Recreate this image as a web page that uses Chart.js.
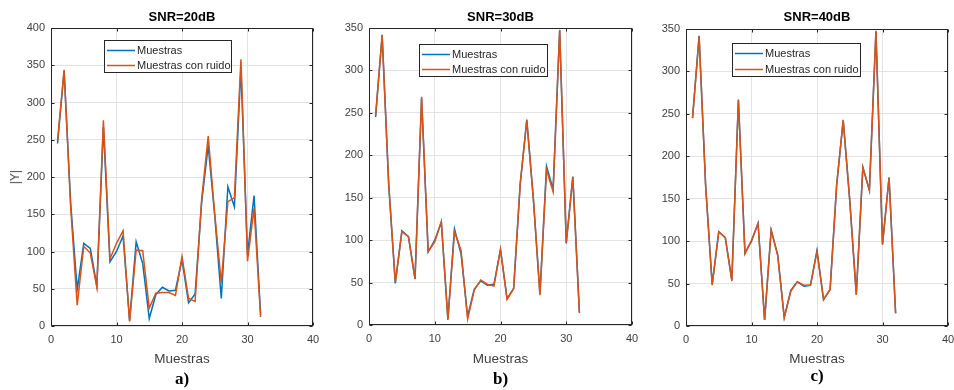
<!DOCTYPE html>
<html>
<head>
<meta charset="utf-8">
<script src="https://cdn.jsdelivr.net/npm/chart.js@4/dist/chart.umd.min.js"></script>
<style>
  html, body { margin: 0; padding: 0; background: #fff; }
  #wrap { position: relative; width: 954px; height: 390px; overflow: hidden; font-family: "Liberation Sans", Arial, sans-serif; }
  .panel { position: absolute; top: 0; height: 390px; }
  .txt { position: absolute; white-space: nowrap; transform: translate(-50%, -50%); }
  .title { font-weight: bold; font-size: 13px; color: #000; }
  .xlab { font-size: 13.5px; color: #404040; }
  .letter { font-family: "Liberation Serif", "Times New Roman", serif; font-weight: bold; font-size: 17px; color: #000; }
  .ylab { font-size: 12px; color: #404040; transform: translate(-50%, -50%) rotate(-90deg); }
</style>
</head>
<body>
<div id="wrap"></div>
<script>
// Sample index (1..32)
const sampleIdx = [1,2,3,4,5,6,7,8,9,10,11,12,13,14,15,16,17,18,19,20,21,22,23,24,25,26,27,28,29,30,31,32];

// |Y| of the clean samples
const muestras = [245,342,165,49,111,104,54,267,86,100,121,7,113,84,10,42,52,47,48,89,31,43,166,242,148,37,187,160,347,96,175,15];

// |Y| with added noise at each SNR
const ruido20 = [249,344,160,28,107,98,52,276,90,111,128,6,102,101,24,44,45,45,41,93,37,33,170,255,150,58,167,172,358,87,158,12];
const ruido30 = [247,341,166,50,110,104,55,269,87,98,122,6,110,88,7,41,53,48,46,89,30,43,167,241,149,35,183,157,348,97,174,14];
const ruido40 = [245,341,165,48,111,104,53,266,85,101,121,7,113,83,10,41,52,48,48,88,31,43,166,243,148,37,187,160,348,96,175,15];

const titles = ['SNR=20dB', 'SNR=30dB', 'SNR=40dB'];
const letters = ['a)', 'b)', 'c)'];
const seriesNames = ['Muestras', 'Muestras con ruido'];
const xLabel = 'Muestras';
const yLabel = '|Y|';
const yMax = [400, 350, 350];
const xTicks = [0, 10, 20, 30, 40];

const BLUE = '#0072BD';
const ORANGE = '#D95319';

// Panel geometry: canvas placement and plot box inside it
const panels = [
  { left: 0,   width: 330, yW: 51, padR: 17, padT: 28, padB: 34, legend: { x: 104, y: 40, w: 128, h: 33 }, noisy: ruido20 },
  { left: 320, width: 320, yW: 49, padR: 8,  padT: 28, padB: 35, legend: { x: 99,  y: 44, w: 129, h: 33 }, noisy: ruido30 },
  { left: 636, width: 318, yW: 50, padR: 6,  padT: 29, padB: 34, legend: { x: 96,  y: 43, w: 129, h: 34 }, noisy: ruido40 }
];

// Box frame with inward ticks plus an in-plot legend
const matlabAxes = {
  id: 'matlabAxes',
  afterDatasetsDraw(chart, args, opts) {
    const { ctx, chartArea: a, scales: { x, y } } = chart;
    ctx.save();
    ctx.strokeStyle = '#262626';
    ctx.lineWidth = 1;
    const L = Math.round(a.left) + 0.5, R = Math.round(a.right) - 0.5;
    const T = Math.round(a.top) + 0.5, B = Math.round(a.bottom) - 0.5;
    ctx.strokeRect(L, T, R - L, B - T);
    const tl = 3;
    ctx.beginPath();
    x.ticks.forEach(t => {
      const px = Math.round(x.getPixelForValue(t.value)) + 0.5;
      ctx.moveTo(px, B); ctx.lineTo(px, B - tl);
      ctx.moveTo(px, T); ctx.lineTo(px, T + tl);
    });
    y.ticks.forEach(t => {
      const py = Math.round(y.getPixelForValue(t.value)) + 0.5;
      ctx.moveTo(L, py); ctx.lineTo(L + tl, py);
      ctx.moveTo(R, py); ctx.lineTo(R - tl, py);
    });
    ctx.stroke();

    // legend
    const g = opts.box;
    if (g) {
      ctx.fillStyle = '#fff';
      ctx.fillRect(g.x, g.y, g.w, g.h);
      ctx.strokeStyle = '#262626';
      ctx.strokeRect(g.x + 0.5, g.y + 0.5, g.w - 1, g.h - 1);
      const rows = [g.y + g.h * 0.3, g.y + g.h * 0.76];
      const ds = chart.data.datasets;
      ctx.font = '11px "Liberation Sans", Arial, sans-serif';
      ctx.textBaseline = 'middle';
      ctx.textAlign = 'left';
      ds.forEach((d, i) => {
        const ry = Math.round(rows[i]) + 0.5;
        ctx.strokeStyle = d.borderColor;
        ctx.lineWidth = 1.5;
        ctx.beginPath();
        ctx.moveTo(g.x + 3, ry); ctx.lineTo(g.x + 31, ry);
        ctx.stroke();
        ctx.fillStyle = '#262626';
        ctx.fillText(d.label, g.x + 33, ry + 0.5);
      });
    }
    ctx.restore();
  }
};

const wrap = document.getElementById('wrap');

panels.forEach((p, k) => {
  const div = document.createElement('div');
  div.className = 'panel';
  div.style.left = p.left + 'px';
  div.style.width = p.width + 'px';
  const cv = document.createElement('canvas');
  cv.width = p.width; cv.height = 390;
  div.appendChild(cv);
  wrap.appendChild(div);

  new Chart(cv, {
    type: 'line',
    data: {
      datasets: [
        { label: seriesNames[0], data: sampleIdx.map((s, i) => ({ x: s, y: muestras[i] })),
          borderColor: BLUE, borderWidth: 1.5, pointRadius: 0, tension: 0, fill: false, order: 1 },
        { label: seriesNames[1], data: sampleIdx.map((s, i) => ({ x: s, y: p.noisy[i] })),
          borderColor: ORANGE, borderWidth: 1.5, pointRadius: 0, tension: 0, fill: false, order: 0 }
      ]
    },
    options: {
      responsive: false,
      animation: false,
      devicePixelRatio: 1,
      layout: { padding: { left: 0, right: p.padR, top: p.padT, bottom: p.padB } },
      plugins: {
        legend: { display: false },
        tooltip: { enabled: false },
        title: { display: false },
        matlabAxes: { box: p.legend }
      },
      scales: {
        x: {
          type: 'linear', min: xTicks[0], max: xTicks[xTicks.length - 1],
          afterBuildTicks: s => { s.ticks = xTicks.map(v => ({ value: v })); },
          afterFit: s => { s.height = 30; s.paddingLeft = 0; s.paddingRight = 0; },
          grid: { color: '#e3e3e3', drawTicks: false, lineWidth: 1 },
          border: { display: false },
          ticks: { padding: 7, color: '#404040', font: { family: '"Liberation Sans", Arial, sans-serif', size: 11 }, maxRotation: 0 }
        },
        y: {
          type: 'linear', min: 0, max: yMax[k],
          ticks: { stepSize: 50, padding: 6, color: '#404040', font: { family: '"Liberation Sans", Arial, sans-serif', size: 11 } },
          afterFit: s => { s.width = p.yW; s.paddingTop = 0; s.paddingBottom = 0; },
          grid: { color: '#e3e3e3', drawTicks: false, lineWidth: 1 },
          border: { display: false }
        }
      }
    },
    plugins: [matlabAxes]
  });

  // titles and axis labels
  const cx = p.left + p.yW + (p.width - p.yW - p.padR) / 2;
  const addText = (cls, text, x, y) => {
    const t = document.createElement('div');
    t.className = 'txt ' + cls;
    t.textContent = text;
    t.style.left = x + 'px';
    t.style.top = y + 'px';
    wrap.appendChild(t);
  };
  addText('title', titles[k], cx, 16);
  addText('xlab', xLabel, cx, 358);
  addText('letter', letters[k], cx, k === 2 ? 376 : 379);
  if (k === 0) addText('ylab', yLabel, 15, 177);
});
</script>
</body>
</html>
